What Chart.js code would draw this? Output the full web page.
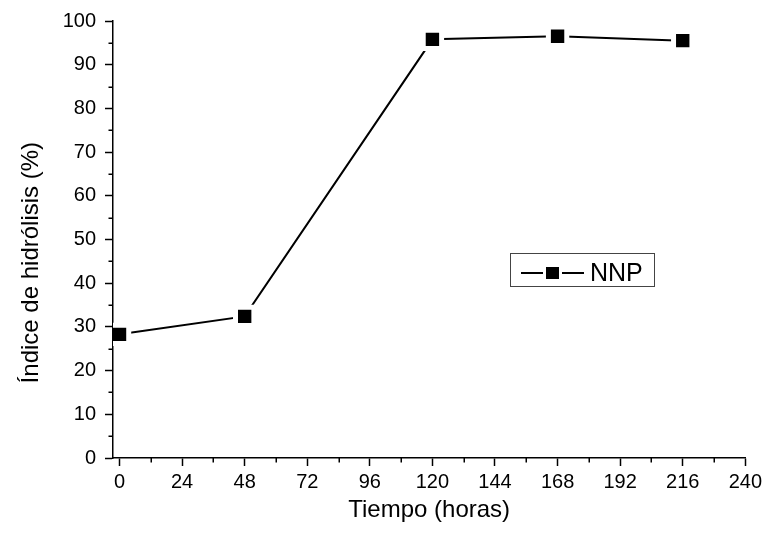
<!DOCTYPE html>
<html><head><meta charset="utf-8">
<script src="https://cdn.jsdelivr.net/npm/chart.js@4"></script>
<style>html,body{margin:0;padding:0;background:#fff}canvas{display:block}</style>
</head><body>
<canvas id="c" width="766" height="546"></canvas>
<script>
const hours = [0, 48, 120, 168, 216];
const nnp = [28.3, 32.4, 95.8, 96.5, 95.5];
const xTicks = [0, 24, 48, 72, 96, 120, 144, 168, 192, 216, 240];
const yTicks = [0, 10, 20, 30, 40, 50, 60, 70, 80, 90, 100];
const seriesLabel = 'NNP';
const xTitle = 'Tiempo (horas)';
const yTitle = 'Índice de hidrólisis (%)';

const FONT = '"Liberation Sans", Arial, sans-serif';
Chart.defaults.font.family = FONT;
Chart.defaults.color = '#000';

const minorTicks = {
  id: 'minorTicks',
  afterDraw(chart) {
    const ctx = chart.ctx, xs = chart.scales.x, ys = chart.scales.y;
    ctx.save();
    ctx.strokeStyle = '#000';
    ctx.lineWidth = 1.5;
    for (let i = 0; i < xTicks.length - 1; i++) {
      const px = Math.round(xs.getPixelForValue((xTicks[i] + xTicks[i + 1]) / 2)) + 0.25;
      ctx.beginPath(); ctx.moveTo(px, xs.top); ctx.lineTo(px, xs.top + 4.5); ctx.stroke();
    }
    for (let i = 0; i < yTicks.length - 1; i++) {
      const py = Math.round(ys.getPixelForValue((yTicks[i] + yTicks[i + 1]) / 2)) + 0.25;
      ctx.beginPath(); ctx.moveTo(ys.right, py); ctx.lineTo(ys.right - 4.5, py); ctx.stroke();
    }
    ctx.restore();
  }
};

const yTitlePlugin = {
  id: 'yTitlePlugin',
  afterDraw(chart) {
    const ctx = chart.ctx, ca = chart.chartArea;
    ctx.save();
    ctx.translate(31, ca.top + (ca.bottom - ca.top) * 0.553);
    ctx.rotate(-Math.PI / 2);
    ctx.font = '24px ' + FONT;
    ctx.fillStyle = '#000';
    ctx.textAlign = 'center';
    ctx.textBaseline = 'middle';
    ctx.fillText(yTitle, 0, 0);
    ctx.restore();
  }
};

const boxLegend = {
  id: 'boxLegend',
  afterDraw(chart) {
    const ctx = chart.ctx, ca = chart.chartArea;
    const x0 = Math.round(ca.left + (ca.right - ca.left) * 0.628);
    const y0 = Math.round(ca.top + (ca.bottom - ca.top) * 0.53);
    const w = 144, h = 33;
    ctx.save();
    ctx.strokeStyle = '#444';
    ctx.lineWidth = 1;
    ctx.strokeRect(x0 + 0.5, y0 + 0.5, w, h);
    const ly = y0 + 20;
    ctx.strokeStyle = '#000';
    ctx.lineWidth = 2;
    ctx.beginPath(); ctx.moveTo(x0 + 11, ly); ctx.lineTo(x0 + 33, ly); ctx.stroke();
    ctx.beginPath(); ctx.moveTo(x0 + 52, ly); ctx.lineTo(x0 + 74, ly); ctx.stroke();
    ctx.fillStyle = '#000';
    ctx.fillRect(x0 + 36, ly - 6, 13, 12);
    ctx.font = '25px ' + FONT;
    ctx.textBaseline = 'alphabetic';
    ctx.fillText(seriesLabel, x0 + 80, y0 + 28);
    ctx.restore();
  }
};

new Chart(document.getElementById('c'), {
  type: 'line',
  data: {
    datasets: [{
      label: seriesLabel,
      data: hours.map((h, i) => ({ x: h, y: nnp[i] })),
      borderColor: '#000',
      borderWidth: 2,
      tension: 0,
      fill: false,
      pointStyle: 'rect',
      pointRadius: 13,
      pointBorderWidth: 5,
      pointBorderColor: '#fff',
      pointBackgroundColor: '#000'
    }]
  },
  options: {
    responsive: false,
    animation: false,
    events: [],
    layout: { padding: { top: 20, right: 17, left: 0, bottom: 0 } },
    plugins: { legend: { display: false }, tooltip: { enabled: false } },
    scales: {
      x: {
        type: 'linear',
        min: -2.5,
        max: 240,
        afterBuildTicks: s => { s.ticks = xTicks.map(v => ({ value: v })); },
        afterFit: s => { s.height = 88; },
        ticks: { font: { size: 20 }, color: '#000', padding: 4, maxRotation: 0, autoSkip: false },
        grid: { drawOnChartArea: false, drawTicks: true, tickLength: 8, tickColor: '#000', tickWidth: 1.5 },
        border: { display: true, color: '#000', width: 1.5 },
        title: { display: true, text: xTitle, font: { size: 24 }, color: '#000', padding: { top: 0, bottom: 21 } }
      },
      y: {
        type: 'linear',
        min: 0,
        max: 100,
        afterBuildTicks: s => { s.ticks = yTicks.map(v => ({ value: v })); },
        afterFit: s => { s.width = 113; },
        ticks: { font: { size: 20 }, color: '#000', padding: 9, autoSkip: false },
        grid: { drawOnChartArea: false, drawTicks: true, tickLength: 8, tickColor: '#000', tickWidth: 1.5 },
        border: { display: true, color: '#000', width: 1.5 },
        title: { display: false }
      }
    }
  },
  plugins: [minorTicks, yTitlePlugin, boxLegend]
});
</script>
</body></html>
